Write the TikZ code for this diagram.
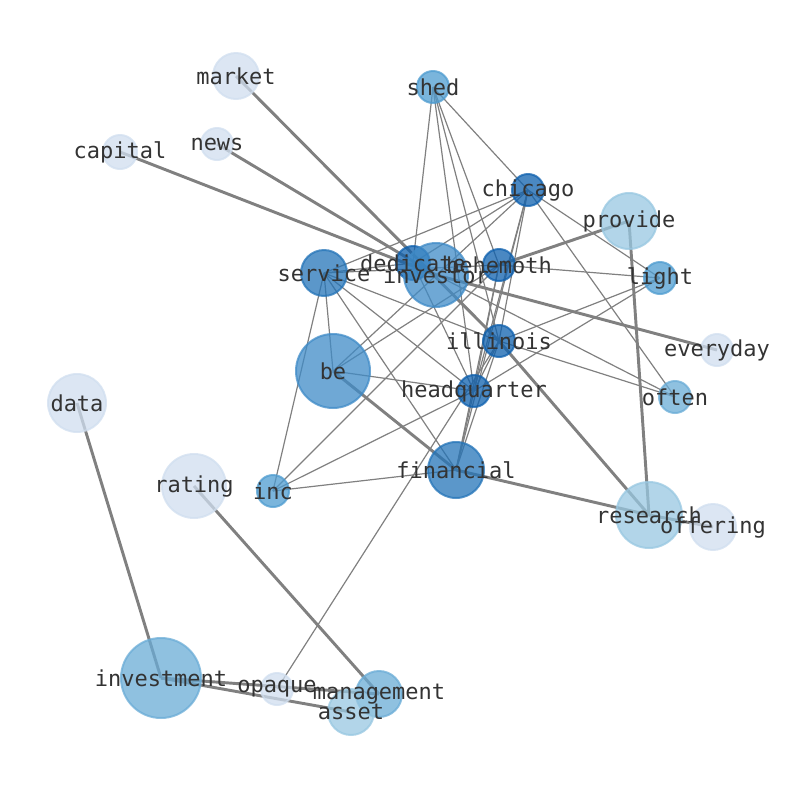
\documentclass[tikz,border=0pt]{standalone}
\usepackage{fontspec}
\newfontfamily\lblfont{DejaVu Sans Mono}
\usetikzlibrary{backgrounds}
\definecolor{ca}{RGB}{14,96,174}
\definecolor{cb}{RGB}{36,116,184}
\definecolor{cc}{RGB}{63,139,199}
\definecolor{cd}{RGB}{78,156,208}
\definecolor{ce}{RGB}{106,172,214}
\definecolor{cf}{RGB}{152,199,225}
\definecolor{cg}{RGB}{208,222,239}
\definecolor{edgec}{RGB}{128,128,128}
\definecolor{textc}{RGB}{51,51,51}
\begin{document}
\begin{tikzpicture}[x=0.75pt,y=-0.75pt,
  nd/.style 2 args={circle,inner sep=0pt,draw=#1,fill=#1,fill opacity=0.75,draw opacity=0.75,line width=1.5pt,minimum size=#2*1.5pt},
  lbl/.style={font=\lblfont\fontsize{16.5}{18}\selectfont,text=textc,inner sep=0pt},
  thin/.style={draw=edgec,line width=0.9pt},
  thick/.style={draw=edgec,line width=2.2pt}]
\useasboundingbox (0,0) rectangle (794,790);
% nodes
\node[nd={cg}{23}] (market) at (236,76) {};
\node[nd={cd}{16}] (shed) at (433,87) {};
\node[nd={cg}{17}] (capital) at (120,152) {};
\node[nd={cg}{16}] (news) at (217,144) {};
\node[nd={ca}{16}] (chicago) at (528,190) {};
\node[nd={cf}{28}] (provide) at (629,221) {};
\node[nd={ca}{17}] (dedicate) at (413,263) {};
\node[nd={cc}{32}] (investor) at (436,275) {};
\node[nd={ca}{16}] (behemoth) at (499,265) {};
\node[nd={cb}{23}] (service) at (324,273) {};
\node[nd={cd}{16}] (light) at (660,278) {};
\node[nd={ca}{16}] (illinois) at (499,341) {};
\node[nd={cg}{16}] (everyday) at (717,350) {};
\node[nd={cc}{37}] (be) at (333,371) {};
\node[nd={ca}{16}] (headquarter) at (474,391) {};
\node[nd={ce}{16}] (often) at (675,397) {};
\node[nd={cg}{29}] (data) at (77,403) {};
\node[nd={cg}{32}] (rating) at (194,486) {};
\node[nd={cd}{16}] (inc) at (273,491) {};
\node[nd={cb}{28}] (financial) at (456,470) {};
\node[nd={cf}{33}] (research) at (649,515) {};
\node[nd={cg}{23}] (offering) at (713,527) {};
\node[nd={ce}{40}] (investment) at (161,678) {};
\node[nd={cg}{16}] (opaque) at (277,689) {};
\node[nd={ce}{23}] (management) at (379,694) {};
\node[nd={cf}{23}] (asset) at (351,712) {};
% edges
\begin{scope}[on background layer]
\foreach \a/\b in {market/illinois,illinois/research,news/investor,capital/investor,investor/everyday,provide/behemoth,provide/research,financial/research,research/offering,be/financial,data/investment,rating/management,investment/management,investment/asset}
  \draw[thick] (\a.center) -- (\b.center);
\foreach \a/\b in {shed/chicago,shed/dedicate,shed/headquarter,shed/illinois,shed/behemoth,
  chicago/light,chicago/often,chicago/service,chicago/dedicate,chicago/be,chicago/headquarter,chicago/financial,chicago/illinois,
  behemoth/headquarter,behemoth/financial,behemoth/inc,behemoth/be,behemoth/light,behemoth/service,
  service/dedicate,service/be,service/inc,service/illinois,service/headquarter,service/financial,
  dedicate/headquarter,dedicate/often,
  illinois/light,illinois/often,illinois/headquarter,illinois/opaque,illinois/financial,
  headquarter/light,headquarter/inc,headquarter/be,headquarter/financial,inc/financial}
  \draw[thin] (\a.center) -- (\b.center);
\end{scope}
% labels
\foreach \n in {market,shed,capital,news,chicago,provide,dedicate,investor,behemoth,service,light,illinois,everyday,be,headquarter,often,data,rating,inc,financial,research,offering,investment,opaque,management,asset}
  \node[lbl] (\n-l) at (\n) {\n};
\end{tikzpicture}
\end{document}
